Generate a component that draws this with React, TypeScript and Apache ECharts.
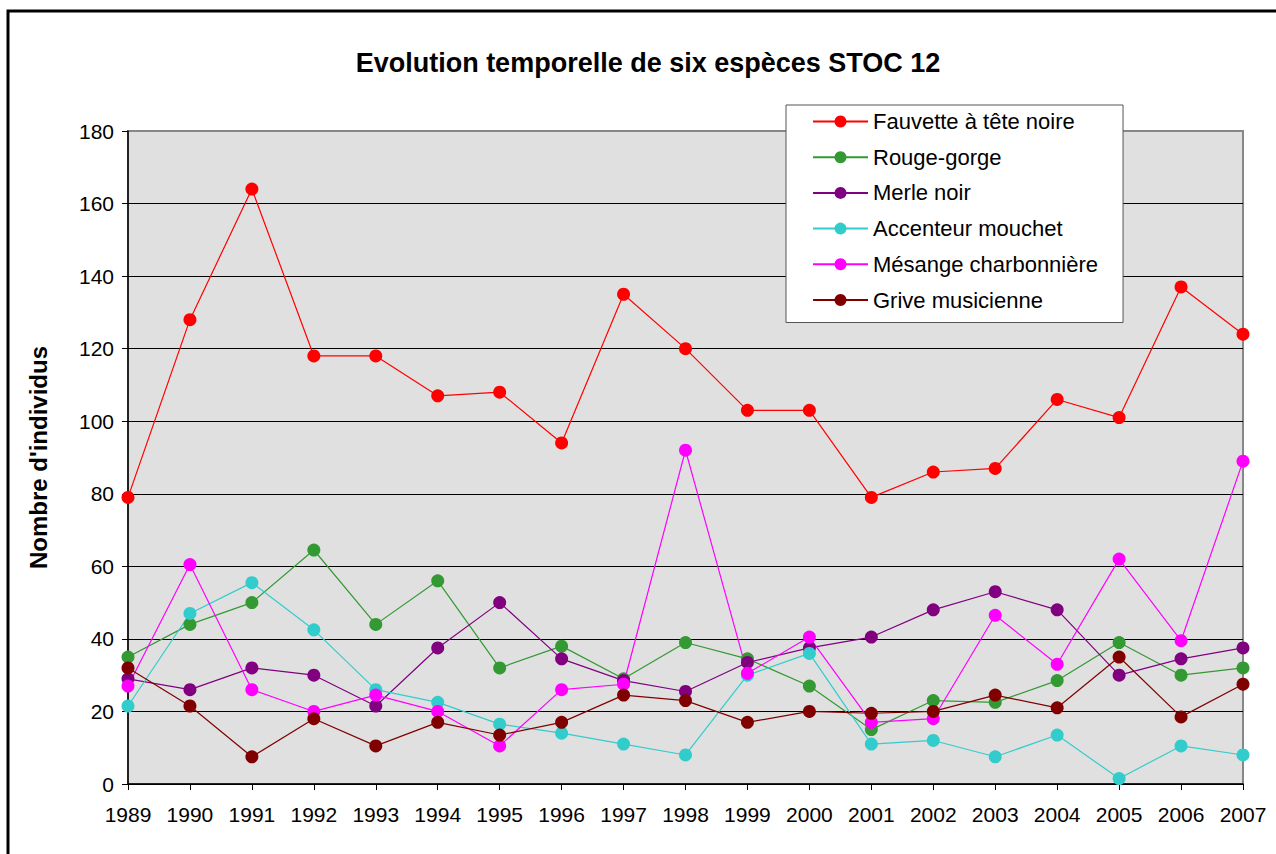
import React, { useEffect, useRef } from "react";
import * as echarts from "echarts";

const years = ["1989","1990","1991","1992","1993","1994","1995","1996","1997","1998","1999","2000","2001","2002","2003","2004","2005","2006","2007"];
const fauvette = [79, 128, 164, 118, 118, 107, 108, 94, 135, 120, 103, 103, 79, 86, 87, 106, 101, 137, 124];
const rougeGorge = [35, 44, 50, 64.5, 44, 56, 32, 38, 29, 39, 34.5, 27, 15, 23, 22.5, 28.5, 39, 30, 32];
const merleNoir = [29, 26, 32, 30, 21.5, 37.5, 50, 34.5, 28.5, 25.5, 33.5, 37.5, 40.5, 48, 53, 48, 30, 34.5, 37.5];
const accenteur = [21.5, 47, 55.5, 42.5, 26, 22.5, 16.5, 14, 11, 8, 30, 36, 11, 12, 7.5, 13.5, 1.5, 10.5, 8];
const mesange = [27, 60.5, 26, 20, 24.5, 20, 10.5, 26, 27.5, 92, 30.5, 40.5, 17, 18, 46.5, 33, 62, 39.5, 89];
const grive = [32, 21.5, 7.5, 18, 10.5, 17, 13.5, 17, 24.5, 23, 17, 20, 19.5, 20, 24.5, 21, 35, 18.5, 27.5];

const seriesNames = ["Fauvette à tête noire", "Rouge-gorge", "Merle noir", "Accenteur mouchet", "Mésange charbonnière", "Grive musicienne"];
const seriesData = [fauvette, rougeGorge, merleNoir, accenteur, mesange, grive];
const seriesColors = ["#ff0000", "#339933", "#800080", "#33cccc", "#ff00ff", "#800000"];

const FONT = "'Liberation Sans', Arial, sans-serif";

export default function App() {
  const ref = useRef<HTMLDivElement>(null);
  useEffect(() => {
    if (!ref.current) return;
    const chart = echarts.init(ref.current, undefined, { renderer: "svg" });
    const splitColors = ["#000", "#000", "#000", "#000", "#000", "#000", "#000", "#000", "#000", "rgba(0,0,0,0)"];
    chart.setOption({
      animation: false,
      backgroundColor: "#ffffff",
      title: {
        text: "Evolution temporelle de six espèces STOC 12",
        left: 643,
        textAlign: "center",
        top: 44,
        textStyle: { fontFamily: FONT, fontSize: 27, fontWeight: "bold", color: "#000" },
      },
      graphic: [
        {
          type: "rect",
          shape: { x: 8, y: 11, width: 1400, height: 1000 },
          style: { fill: "none", stroke: "#000", lineWidth: 3 },
          silent: true,
        },
      ],
      legend: {
        orient: "vertical",
        left: 786,
        top: 105,
        padding: [5, 25, 11, 26],
        backgroundColor: "#ffffff",
        borderColor: "#555",
        borderWidth: 1,
        itemWidth: 55,
        itemHeight: 15,
        itemGap: 12.7,
        textStyle: { fontFamily: FONT, fontSize: 22, color: "#000", lineHeight: 23 },
        data: seriesNames,
      },
      grid: {
        left: 128,
        top: 131,
        right: 33,
        bottom: 70,
        show: true,
        backgroundColor: "#e0e0e0",
        borderColor: "#888888",
        borderWidth: 2,
      },
      xAxis: {
        type: "category",
        data: years,
        boundaryGap: false,
        axisLine: { lineStyle: { color: "#000", width: 1.5 } },
        axisTick: { show: true, length: 6, lineStyle: { color: "#000" } },
        axisLabel: { fontFamily: FONT, fontSize: 21, color: "#000", margin: 20 },
        splitLine: { show: false },
      },
      yAxis: {
        type: "value",
        min: 0,
        max: 180,
        interval: 20,
        name: "Nombre d'individus",
        nameLocation: "middle",
        nameGap: 78,
        nameRotate: 90,
        nameTextStyle: { fontFamily: FONT, fontSize: 24, fontWeight: "bold", color: "#000" },
        axisLine: { show: true, lineStyle: { color: "#000", width: 1.5 } },
        axisTick: { show: true, length: 6, lineStyle: { color: "#000" } },
        axisLabel: { fontFamily: FONT, fontSize: 21, color: "#000", margin: 14 },
        splitLine: { show: true, lineStyle: { color: splitColors, width: 1 } },
      },
      series: seriesNames.map((name, i) => ({
        name,
        type: "line",
        data: seriesData[i],
        symbol: "circle",
        symbolSize: 13,
        showSymbol: true,
        lineStyle: { color: seriesColors[i], width: 1.2 },
        itemStyle: { color: seriesColors[i] },
        emphasis: { disabled: true },
      })),
    });
    return () => chart.dispose();
  }, []);
  return <div ref={ref} style={{ position: "fixed", left: 0, top: 0, width: 1276, height: 854 }} />;
}
